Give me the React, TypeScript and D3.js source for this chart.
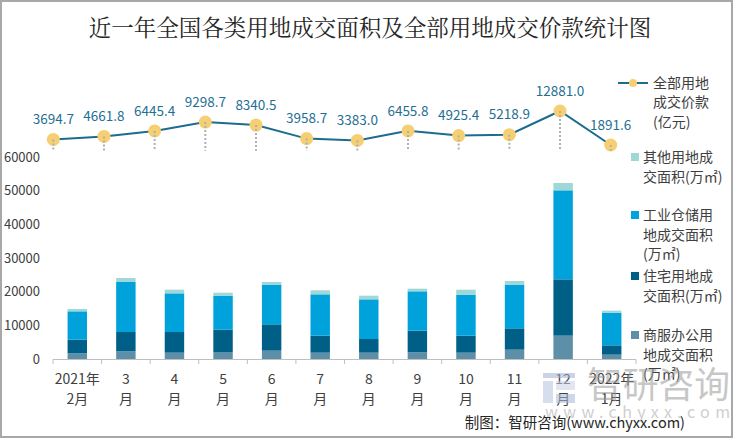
import React from "react";
import * as d3 from "d3";

const categories = ["2021年2月", "3月", "4月", "5月", "6月", "7月", "8月", "9月", "10月", "11月", "12月", "2022年1月"];
const xLabelLine1 = ["2021年", "3", "4", "5", "6", "7", "8", "9", "10", "11", "12", "2022年"];
const xLabelLine2 = ["2月", "月", "月", "月", "月", "月", "月", "月", "月", "月", "月", "1月"];

// 万㎡
const commercial = [1680, 2280, 1880, 2080, 2480, 1880, 1880, 1980, 1880, 2770, 6930, 1290];
const residential = [4060, 5740, 6140, 6630, 7820, 5050, 4060, 6440, 5050, 6340, 16730, 2770];
const industrial = [8420, 14850, 11480, 10100, 11680, 12280, 11780, 11680, 12180, 12870, 26440, 9700];
const other = [690, 1190, 1090, 890, 890, 1190, 1090, 790, 1480, 1190, 2180, 600];
// 亿元
const totalPrice = [3694.7, 4661.8, 6445.4, 9298.7, 8340.5, 3958.7, 3383.0, 6455.8, 4925.4, 5218.9, 12881.0, 1891.6];

const yTicks = [0, 10000, 20000, 30000, 40000, 50000, 60000];

const seriesKeys = ["commercial", "residential", "industrial", "other"];
const seriesColors: Record<string, string> = {
  commercial: "#5e8fa8",
  residential: "#005f86",
  industrial: "#00a2dc",
  other: "#9fd8d6",
};

const FONT = "'Microsoft YaHei','Noto Sans CJK SC','Noto Sans',sans-serif";
const LINE_COLOR = "#1b6c8f";
const MARKER_COLOR = "#f6cf73";
const TEXT_COLOR = "#404040";

export default function App() {
  const rows = categories.map((c, i) => ({
    cat: c,
    commercial: commercial[i],
    residential: residential[i],
    industrial: industrial[i],
    other: other[i],
  }));
  const stacked = d3.stack<any>().keys(seriesKeys)(rows);

  const x = d3.scaleBand<string>().domain(categories).range([53, 636]).paddingInner(0.6).paddingOuter(0.3);
  const y = d3.scaleLinear().domain([0, 60000]).range([359, 157]);
  const xLine = d3.scalePoint<string>().domain(categories).range([53.3, 610.7]);
  const yLine = d3.scaleLinear().domain([0, 12881]).range([150.85, 111]);

  const lineGen = d3
    .line<number>()
    .x((_, i) => xLine(categories[i]) as number)
    .y((d) => yLine(d));

  const step = x.step();
  const x0 = x.range()[0];
  const boundaries = d3.range(categories.length + 1).map((i) => x0 + i * step);

  const legendLine = [
    { key: "other", lines: ["其他用地成", "交面积(万㎡)"], y: 157 },
    { key: "industrial", lines: ["工业仓储用", "地成交面积", "(万㎡)"], y: 215 },
    { key: "residential", lines: ["住宅用地成", "交面积(万㎡)"], y: 276 },
    { key: "commercial", lines: ["商服办公用", "地成交面积", "(万㎡)"], y: 335 },
  ];

  return (
    <svg
      width={750}
      height={440}
      style={{ position: "absolute", left: 0, top: 0, background: "#fff", fontFamily: FONT }}
    >
      <rect x={0} y={0} width={750} height={440} fill="#fff" />
      <rect x={1} y={1} width={731} height={436} fill="#fff" stroke="#a8a8a8" strokeWidth={2} />

      {/* Title */}
      <text x={370} y={36} textAnchor="middle" fontSize={22.5} fill="#262626" fontFamily="'Noto Serif CJK SC','Noto Sans CJK SC',serif">
        近一年全国各类用地成交面积及全部用地成交价款统计图
      </text>

      {/* Y axis labels */}
      {yTicks.map((t) => (
        <text key={t} x={40} y={y(t)} dy="0.35em" textAnchor="end" fontSize={13} fill={TEXT_COLOR}>
          {t}
        </text>
      ))}

      {/* Bars */}
      {stacked.map((s) => (
        <g key={s.key} fill={seriesColors[s.key]}>
          {s.map((d, i) => (
            <rect
              key={i}
              x={x(categories[i])}
              width={x.bandwidth()}
              y={y(d[1])}
              height={y(d[0]) - y(d[1])}
            />
          ))}
        </g>
      ))}

      {/* X axis */}
      <line x1={x0} x2={x.range()[1]} y1={359.5} y2={359.5} stroke="#bfbfbf" strokeWidth={1} />
      {boundaries.map((b, i) => (
        <line key={i} x1={b} x2={b} y1={359.5} y2={364} stroke="#bfbfbf" strokeWidth={1} />
      ))}
      {categories.map((c, i) => {
        const cx = (x(c) as number) + x.bandwidth() / 2;
        return (
          <g key={c} fontSize={14} fill={TEXT_COLOR} textAnchor="middle">
            <text x={cx} y={379} dy="0.35em">{xLabelLine1[i]}</text>
            <text x={cx} y={399} dy="0.35em">{xLabelLine2[i]}</text>
          </g>
        );
      })}

      {/* Line series */}
      <path d={lineGen(totalPrice) || ""} fill="none" stroke={LINE_COLOR} strokeWidth={2} />
      {totalPrice.map((v, i) => (
        <circle key={i} cx={xLine(categories[i])} cy={yLine(v)} r={6.5} fill={MARKER_COLOR} />
      ))}
      {totalPrice.map((v, i) => (
        <line
          key={"d" + i}
          x1={xLine(categories[i])}
          x2={xLine(categories[i])}
          y1={yLine(v)}
          y2={yLine(0)}
          stroke="#b0b0b0"
          strokeWidth={2}
          strokeDasharray="2 2"
        />
      ))}
      {totalPrice.map((v, i) => (
        <text
          key={"l" + i}
          x={xLine(categories[i])}
          y={yLine(v) - 20}
          dy="0.35em"
          textAnchor="middle"
          fontSize={13.5}
          fill="#1f6f94"
        >
          {v.toFixed(1)}
        </text>
      ))}

      {/* Legend */}
      <line x1={618} x2={648} y1={83} y2={83} stroke={LINE_COLOR} strokeWidth={2} />
      <circle cx={633} cy={83} r={4} fill={MARKER_COLOR} />
      {["全部用地", "成交价款", "(亿元)"].map((t, i) => (
        <text key={t} x={653} y={83 + i * 19.5} dy="0.35em" fontSize={14} fill={TEXT_COLOR}>
          {t}
        </text>
      ))}
      {legendLine.map((l) => (
        <g key={l.key}>
          <rect x={631} y={l.y - 4} width={8} height={8} fill={seriesColors[l.key]} />
          {l.lines.map((t, i) => (
            <text key={i} x={643} y={l.y + i * 19.7} dy="0.35em" fontSize={14} fill={TEXT_COLOR}>
              {t}
            </text>
          ))}
        </g>
      ))}

      {/* Watermark */}
      <g opacity={0.55}>
        <rect x={543} y={373} width={32} height={5} fill="#9fb1d3" />
        <rect x={543} y={381} width={10} height={22} fill="#b6c3de" />
        <rect x={556} y={381} width={19} height={9} fill="#c9d3e8" />
        <rect x={556} y={394} width={19} height={9} fill="#a9b9d8" />
        <text x={587} y={385} dy="0.35em" fontSize={36} fill="#9a9a9a" textLength={143} lengthAdjust="spacingAndGlyphs">
          智研咨询
        </text>
        <text x={545} y={412} dy="0.35em" fontSize={16} fill="#a8a8a8" textLength={185} lengthAdjust="spacing">
          www.chyxx.com
        </text>
      </g>

      {/* Source */}
      <text x={685} y={423} dy="0.35em" textAnchor="end" fontSize={14.5} fill="#262626">
        制图：智研咨询(www.chyxx.com)
      </text>
    </svg>
  );
}
